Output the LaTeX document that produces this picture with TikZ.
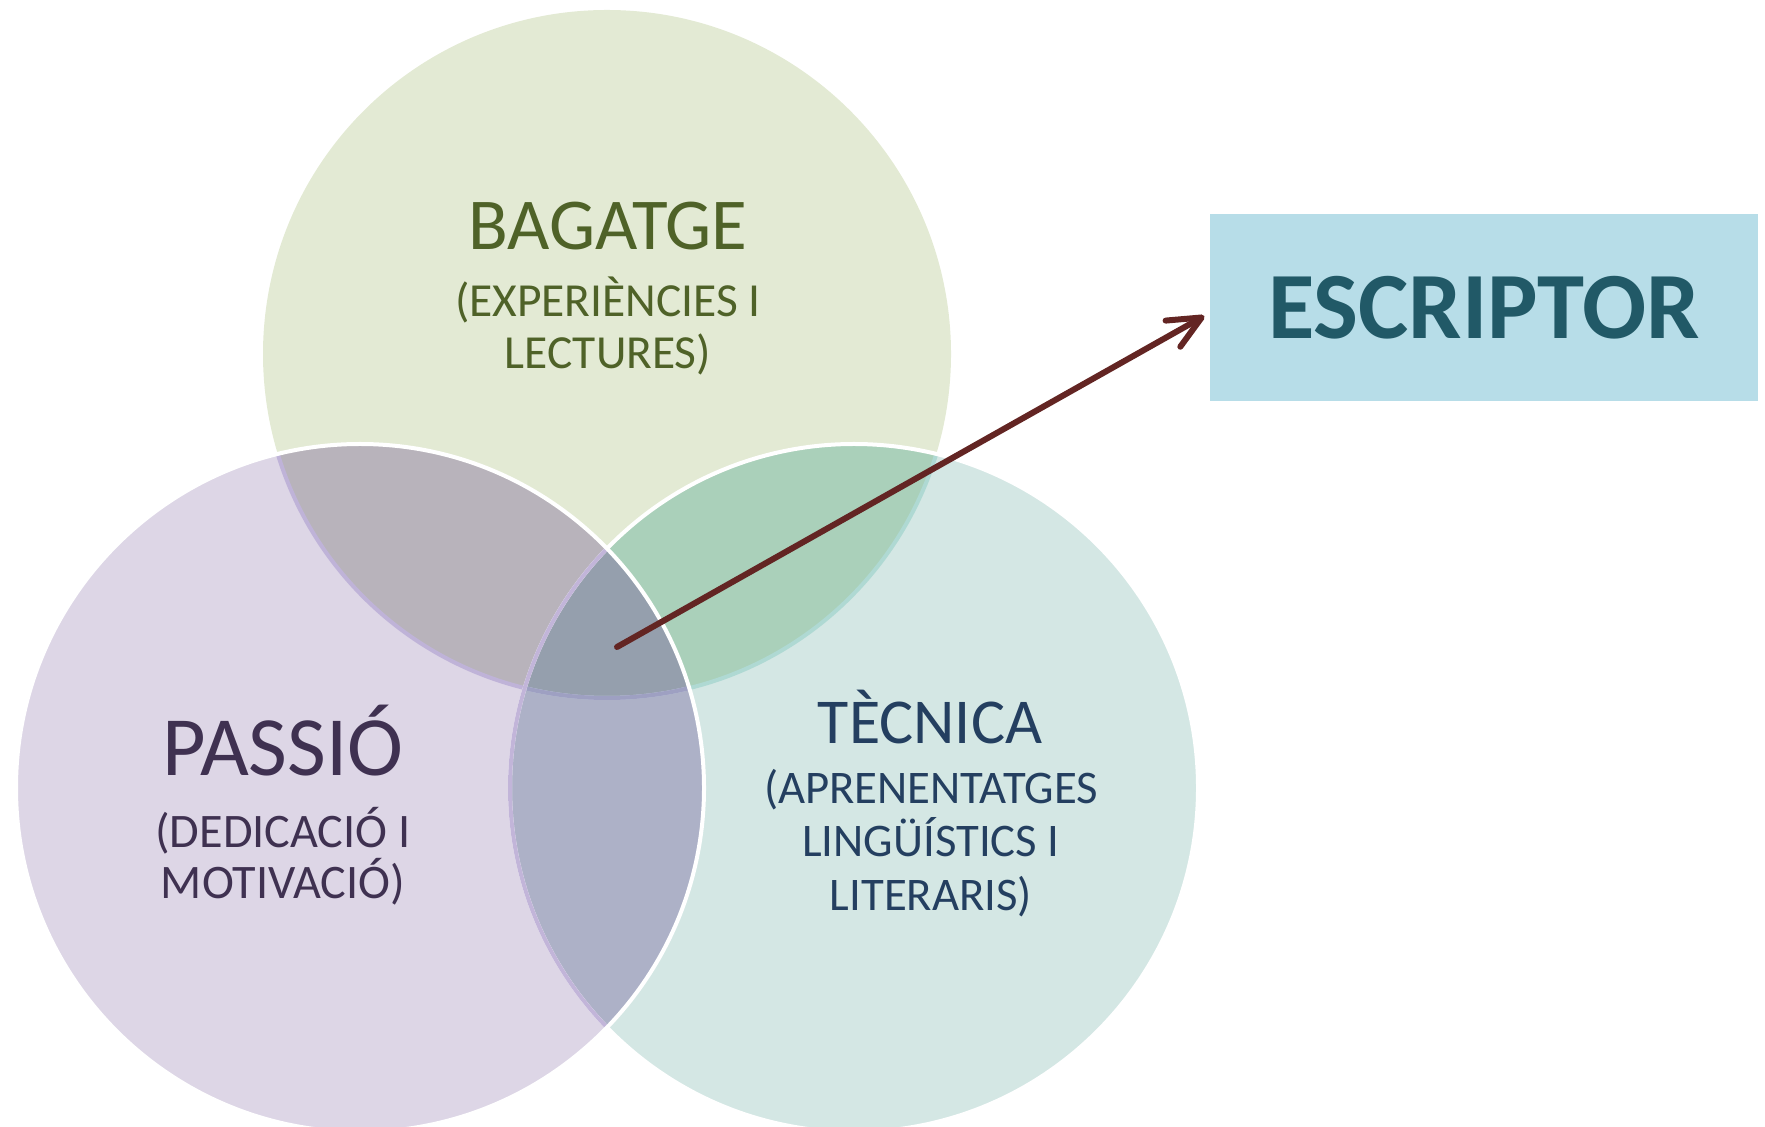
\documentclass[tikz,border=0pt]{standalone}
\usepackage{fontspec}
\setmainfont{Carlito}
\usepackage{xcolor}
\usetikzlibrary{arrows.meta}

\definecolor{bagfill}{HTML}{E3EAD4}
\definecolor{pasfill}{HTML}{DDD6E6}
\definecolor{tecfill}{HTML}{D4E7E4}
\definecolor{bagpas}{HTML}{B8B3BB}
\definecolor{bagtec}{HTML}{AAD0BA}
\definecolor{pastec}{HTML}{ADB1C7}
\definecolor{allfill}{HTML}{959FAD}
\definecolor{bagtext}{HTML}{4F6228}
\definecolor{pastext}{HTML}{3F3151}
\definecolor{tectext}{HTML}{243F60}
\definecolor{escfill}{HTML}{B7DDE8}
\definecolor{esctext}{HTML}{215967}
\definecolor{arrowred}{HTML}{632523}

\tikzset{
  rim/.style={line width=0.4mm},
  label/.style={anchor=base, align=center},
}

\begin{document}
\begin{tikzpicture}
    \useasboundingbox (0,0) rectangle (17.65,11.26);
    \def\rad{3.44}

    %% circles
    \coordinate (bag) at (6.07,7.72);
    \coordinate (pas) at (3.60,3.38);
    \coordinate (tec) at (8.54,3.38);

    \fill[bagfill] (bag) circle (\rad);
    \fill[pasfill] (pas) circle (\rad);
    \fill[tecfill] (tec) circle (\rad);

    % overlaps
    \begin{scope}
        \clip (bag) circle (\rad);
        \fill[bagpas] (pas) circle (\rad);
        \fill[bagtec] (tec) circle (\rad);
    \end{scope}
    \begin{scope}
        \clip (pas) circle (\rad);
        \fill[pastec] (tec) circle (\rad);
        \clip (bag) circle (\rad);
        \fill[allfill] (tec) circle (\rad);
    \end{scope}

    % rims
    \begin{scope}
        \clip (tec) circle (\rad);
        \draw[rim, color={rgb,255:red,175;green,217;blue,211}] (bag) circle (\rad);
    \end{scope}
    \begin{scope}
        \clip (pas) circle (\rad);
        \draw[rim, color={rgb,255:red,191;green,179;blue,216}] (bag) circle (\rad);
        \clip (tec) circle (\rad);
        \draw[rim, color={rgb,255:red,158;green,160;blue,194}] (bag) circle (\rad);
    \end{scope}
    \draw[rim, white] (tec) circle (\rad);
    \begin{scope}
        \clip (pas) circle (\rad);
        \draw[rim, color={rgb,255:red,194;green,181;blue,217}] (tec) circle (\rad);
    \end{scope}
    \draw[rim, white] (pas) circle (\rad);

    %% texts
    \node[label, font=\fontsize{20.8}{24}\selectfont] (bagtitle) at (6.08,8.76) {\textcolor{bagtext}{BAGATGE}};
    \node[label, font=\fontsize{13.5}{14.8}\selectfont] (bagsub) at (6.08,7.57) {\textcolor{bagtext}{(EXPERIÈNCIES I}\\\textcolor{bagtext}{LECTURES)}};

    \node[label, font=\fontsize{24}{28}\selectfont] (pastitle) at (2.83,3.50) {\textcolor{pastext}{PASSIÓ}};
    \node[label, font=\fontsize{13.7}{14.4}\selectfont] (passub) at (2.83,2.28) {\textcolor{pastext}{(DEDICACIÓ I}\\\textcolor{pastext}{MOTIVACIÓ)}};

    \node[label, font=\fontsize{18.2}{22}\selectfont] (tectitle) at (9.30,3.82) {\textcolor{tectext}{TÈCNICA}};
    \node[label, font=\fontsize{13.3}{15.1}\selectfont] (tecsub) at (9.31,2.16) {\textcolor{tectext}{(APRENENTATGES}\\\textcolor{tectext}{LINGÜÍSTICS I}\\\textcolor{tectext}{LITERARIS)}};

    %% escriptor
    \node[fill=escfill, minimum width=5.48cm, minimum height=1.87cm, inner sep=0pt,
          font=\fontsize{27}{30}\selectfont\bfseries] (escr) at (14.84,8.185) {\textcolor{esctext}{ESCRIPTOR}};

    %% arrow
    \coordinate (mid) at (6.17,4.79);
    \draw[arrowred, line width=0.6mm, line cap=round, -{Straight Barb[length=3.3mm, width=3mm, round]}]
        (mid) -- ([xshift=-0.5mm, yshift=-0.85mm]escr.west);

\end{tikzpicture}
\end{document}
